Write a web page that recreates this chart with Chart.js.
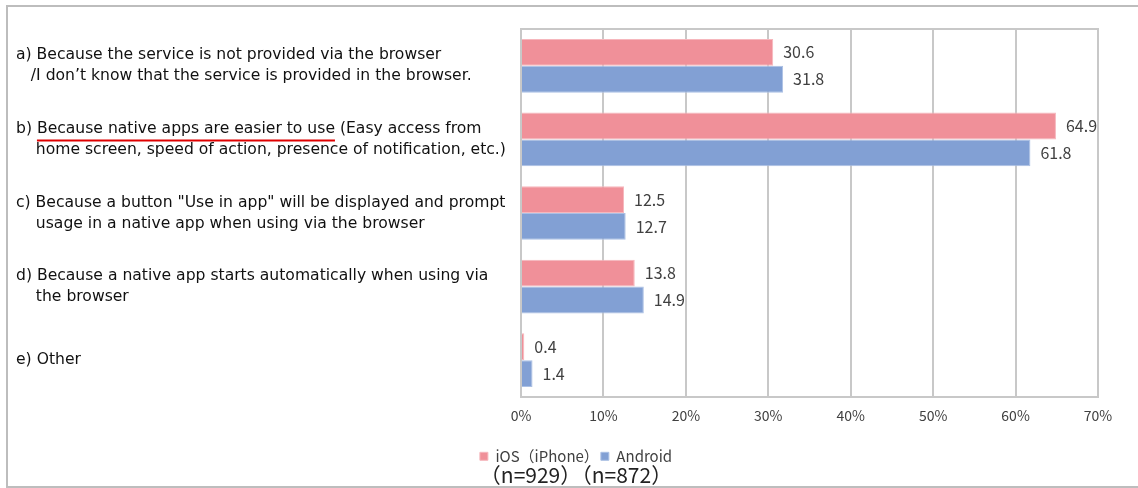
<!DOCTYPE html>
<html>
<head>
<meta charset="utf-8">
<script src="https://cdn.jsdelivr.net/npm/chart.js@4/dist/chart.umd.min.js"></script>
<style>
    html, body { margin: 0; padding: 0; background: #fff; overflow: hidden; }
    #wrap { position: absolute; left: 0; top: 0; width: 1138px; height: 488px; }
    #frame { position: absolute; left: 6px; top: 5px; width: 1200px; height: 479px; border: 2px solid #bdbdbd; pointer-events: none; }
</style>
</head>
<body>
<div id="wrap"><canvas id="chart-area"></canvas></div>
<div id="frame"></div>
<script>
'use strict';

var categories = [
    ['a) Because the service is not provided via the browser', '   /I don\u2019t know that the service is provided in the browser.'],
    ['b) Because native apps are easier to use (Easy access from', '    home screen, speed of action, presence of notification, etc.)'],
    ['c) Because a button "Use in app" will be displayed and prompt', '    usage in a native app when using via the browser'],
    ['d) Because a native app starts automatically when using via', '    the browser'],
    'e) Other'
];
var iosValues = [30.6, 64.9, 12.5, 13.8, 0.4];
var androidValues = [31.8, 61.8, 12.7, 14.9, 1.4];
var seriesNames = ['iOS\uFF08iPhone\uFF09', 'Android'];
var sampleNote = '\uFF08n=929\uFF09\uFF08n=872\uFF09';

var jpFont = '"Noto Sans CJK JP", "Noto Sans", sans-serif';
var labelFont = '15.6px "DejaVu Sans", Verdana, sans-serif';
var labelLeft = 16;
var labelLineHeight = 21;

// values at the end of each bar
var valueLabels = {
    id: 'valueLabels',
    afterDatasetsDraw: function(chart) {
        var ctx = chart.ctx;
        ctx.save();
        ctx.font = '16px ' + jpFont;
        ctx.fillStyle = '#404040';
        ctx.textAlign = 'left';
        ctx.textBaseline = 'middle';
        chart.data.datasets.forEach(function(dataset, i) {
            chart.getDatasetMeta(i).data.forEach(function(bar, j) {
                ctx.fillText(dataset.data[j].toFixed(1), bar.x + 10, bar.y);
            });
        });
        ctx.restore();
    }
};

// long category texts, left aligned, plus the red underline under b)
var categoryLabels = {
    id: 'categoryLabels',
    afterDraw: function(chart) {
        var scale = chart.scales.y;
        var ctx = chart.ctx;
        ctx.save();
        ctx.font = labelFont;
        ctx.fillStyle = '#111';
        ctx.textAlign = 'left';
        ctx.textBaseline = 'middle';
        chart.data.labels.forEach(function(label, i) {
            var lines = [].concat(label);
            var y0 = scale.getPixelForTick(i) - (lines.length - 1) * labelLineHeight / 2;
            lines.forEach(function(line, k) {
                ctx.fillText(line, labelLeft, y0 + k * labelLineHeight);
            });
        });

        var x0 = labelLeft + ctx.measureText('b) ').width;
        var x1 = x0 + ctx.measureText('Because native apps are easier to use').width;
        var ly = scale.getPixelForTick(1) + 1;
        ctx.strokeStyle = '#e00000';
        ctx.lineWidth = 2;
        ctx.beginPath();
        ctx.moveTo(x0, ly);
        ctx.lineTo(x1, ly);
        ctx.stroke();
        ctx.restore();
    }
};

// box round the plot area
var plotBox = {
    id: 'plotBox',
    beforeDatasetsDraw: function(chart) {
        var a = chart.chartArea;
        var ctx = chart.ctx;
        ctx.save();
        ctx.strokeStyle = '#c8c8c8';
        ctx.lineWidth = 2;
        ctx.strokeRect(a.left, a.top, a.right - a.left, a.bottom - a.top);
        ctx.restore();
    }
};

var config = {
    type: 'bar',
    data: {
        labels: categories,
        datasets: [{
            label: seriesNames[0],
            data: iosValues,
            backgroundColor: '#f09099',
            borderColor: '#f6b7bd',
            borderWidth: 1,
            categoryPercentage: 0.73,
            barPercentage: 1
        }, {
            label: seriesNames[1],
            data: androidValues,
            backgroundColor: '#82a0d4',
            borderColor: '#abc0e4',
            borderWidth: 1,
            categoryPercentage: 0.73,
            barPercentage: 1
        }]
    },
    options: {
        indexAxis: 'y',
        responsive: true,
        maintainAspectRatio: false,
        animation: false,
        layout: {
            padding: { left: 54, right: 40, top: 29, bottom: 0 }
        },
        scales: {
            x: {
                min: 0,
                max: 70,
                afterFit: function(scale) { scale.height += 13; },
                ticks: {
                    stepSize: 10,
                    color: '#404040',
                    padding: 10,
                    font: { family: jpFont, size: 14 },
                    callback: function(v) { return v + '%'; }
                },
                grid: { color: '#c8c8c8', lineWidth: 2, drawTicks: false },
                border: { display: false }
            },
            y: {
                afterFit: function(scale) { scale.width = 467; },
                ticks: { display: false },
                grid: { display: false, drawTicks: false },
                border: { display: false }
            }
        },
        plugins: {
            legend: {
                position: 'bottom',
                labels: {
                    boxWidth: 8,
                    boxHeight: 8,
                    padding: 2,
                    color: '#404040',
                    font: { family: jpFont, size: 15 }
                }
            },
            title: {
                display: true,
                position: 'bottom',
                text: sampleNote,
                color: '#222',
                padding: { top: -11, bottom: 0 },
                font: { family: jpFont, size: 21, weight: 'normal' }
            },
            tooltip: { enabled: false }
        }
    },
    plugins: [valueLabels, categoryLabels, plotBox]
};

var ctx = document.getElementById('chart-area').getContext('2d');
window.myBars = new Chart(ctx, config);
</script>
</body>
</html>
